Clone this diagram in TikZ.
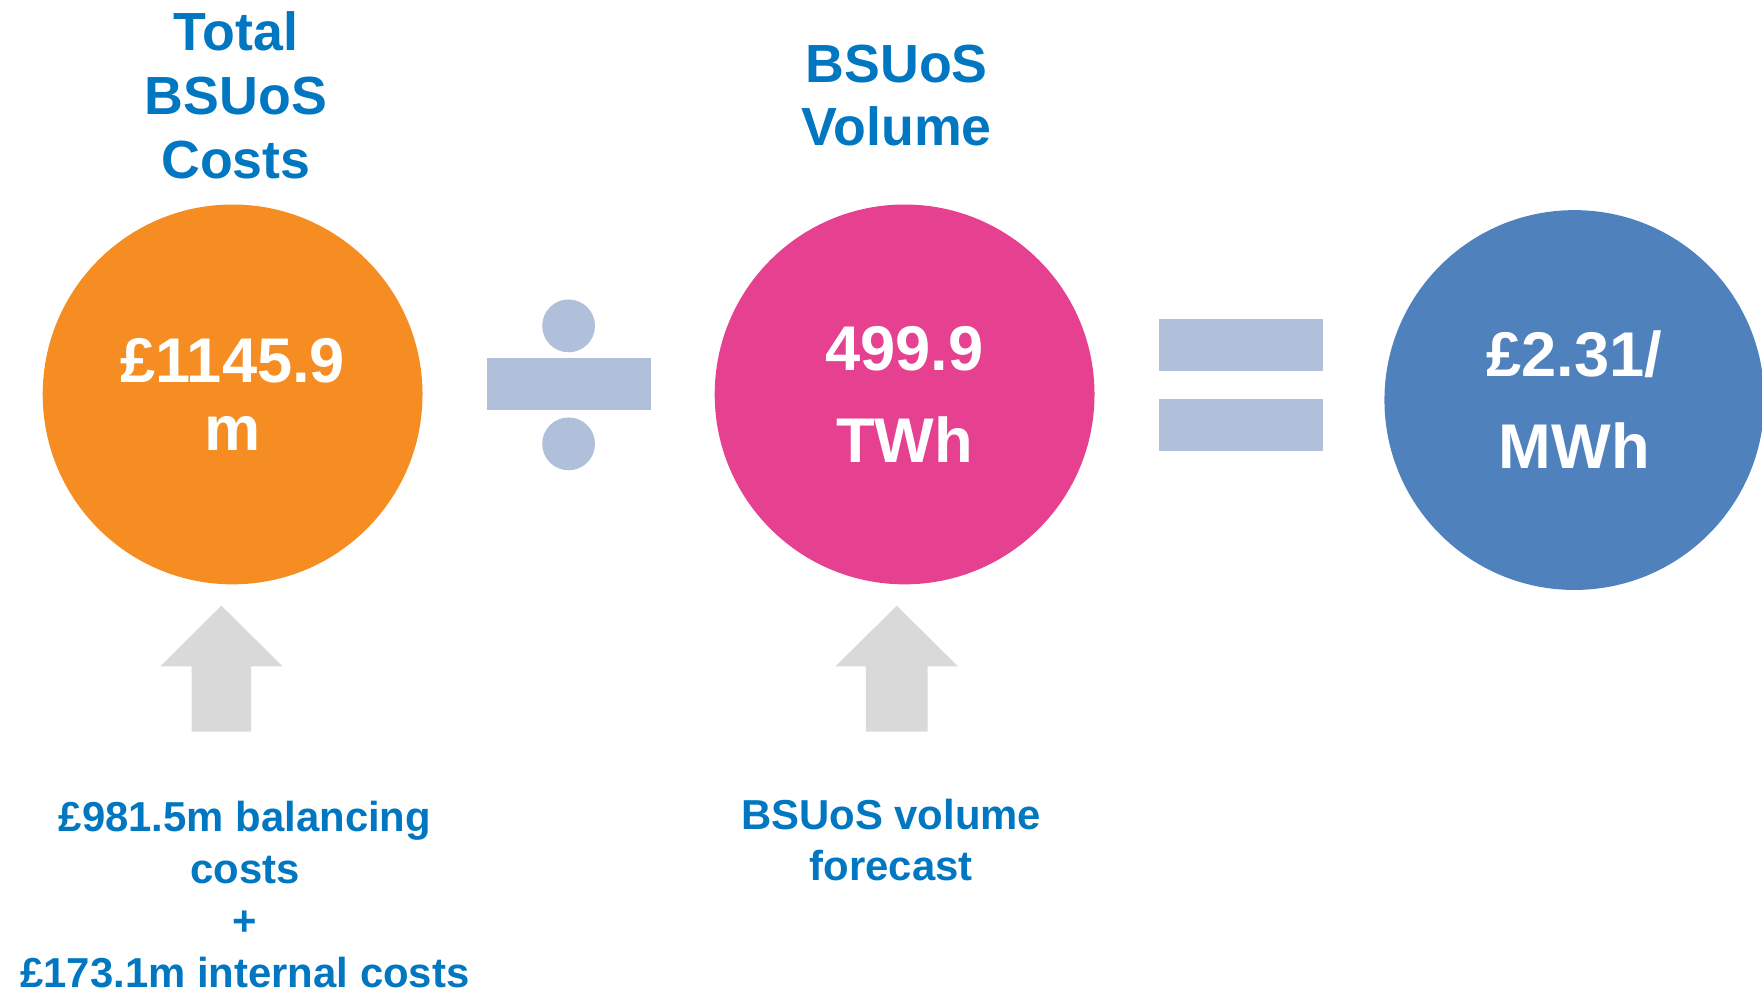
\documentclass[tikz,border=0pt]{standalone}
\usepackage{fontspec}
\setmainfont{Liberation Sans}
\usepackage{xcolor}
\usepackage{tikz}
\usetikzlibrary{
  calc,
  positioning
}
\definecolor{bsblue}{RGB}{0,119,192}
\definecolor{bsorange}{RGB}{245,141,34}
\definecolor{bspink}{RGB}{230,64,145}
\definecolor{bscircle}{RGB}{79,129,189}
\definecolor{opgrey}{RGB}{176,192,218}
\definecolor{arrowgrey}{RGB}{217,217,217}
\tikzset{
  title/.style={
    text=bsblue,
    align=center,
    inner sep=0pt,
    font=\bfseries\fontsize{13.6}{16.2}\selectfont},
  note/.style={
    text=bsblue,
    align=center,
    inner sep=0pt,
    font=\bfseries\fontsize{10.6}{13.1}\selectfont},
  bubble/.style={
    circle,
    minimum size=3.38cm,
    inner sep=0pt,
    text=white,
    align=center},
  opbar/.style={fill=opgrey},
  uparrow/.style={fill=arrowgrey}
  }

\begin{document}
\begin{tikzpicture}
		\useasboundingbox (0,0) rectangle (15.68,8.83);
		% circles
		\node [bubble, fill=bsorange, font=\bfseries\fontsize{16}{17}\selectfont] (cost) at (2.07,5.32) {£1145.9\\m};
		\node [bubble, fill=bspink, font=\bfseries\fontsize{16}{23.3}\selectfont] (vol) at (8.05,5.32) {499.9\\TWh};
		\node [bubble, fill=bscircle, font=\bfseries\fontsize{16}{23.3}\selectfont] (rate) at (14.01,5.27) {£2.31/\\MWh};
		% titles
		\node [title] (costtitle) at (2.10,7.98) {Total\\BSUoS\\Costs};
		\node [title] (voltitle) at (7.98,7.98) {BSUoS\\Volume};
		% divide
		\fill [opbar] (5.06,5.93) circle (0.235);
		\fill [opbar] (5.06,4.88) circle (0.235);
		\fill [opbar] (4.33,5.18) rectangle (5.79,5.64);
		% equals
		\fill [opbar] (10.31,5.53) rectangle (11.77,5.99);
		\fill [opbar] (10.31,4.82) rectangle (11.77,5.28);
		% notes
		\node [note] (costnote) at (2.18,0.87) {£981.5m balancing\\costs\\+\\£173.1m internal costs};
		\node [note] (volnote) at (7.93,1.355) {BSUoS volume\\forecast};
		% arrows
		\coordinate (costtip) at (1.97,3.44);
		\coordinate (voltip) at (7.98,3.44);
		\fill [uparrow] (costtip) -- ++(0.545,-0.54) -- ++(-0.28,0) -- ++(0,-0.58)
			-- ++(-0.53,0) -- ++(0,0.58) -- ++(-0.28,0) -- cycle;
		\fill [uparrow] (voltip) -- ++(0.545,-0.54) -- ++(-0.27,0) -- ++(0,-0.58)
			-- ++(-0.55,0) -- ++(0,0.58) -- ++(-0.27,0) -- cycle;
	\end{tikzpicture}
\end{document}
